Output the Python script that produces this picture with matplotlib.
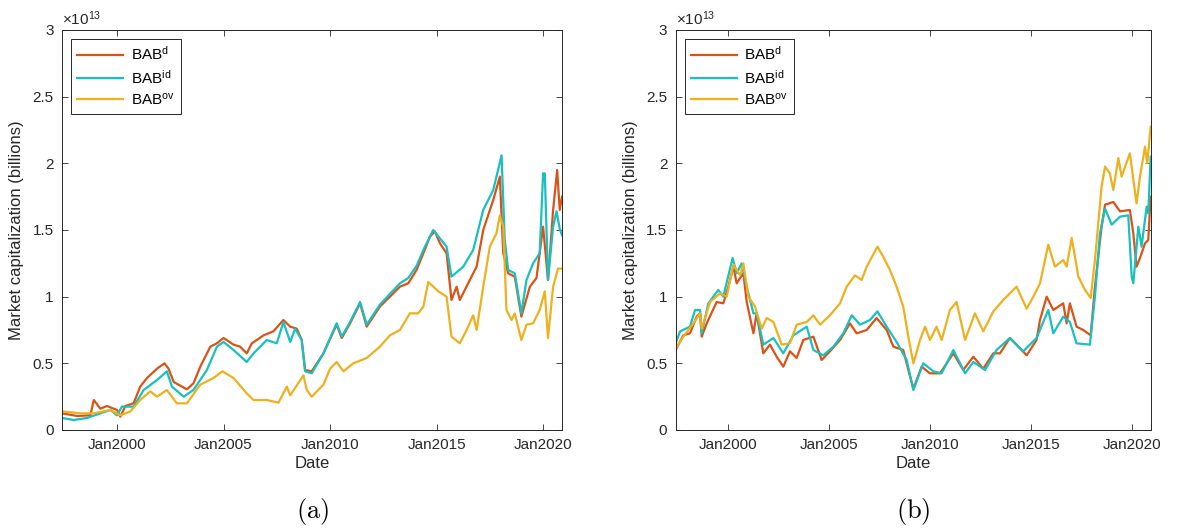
import numpy as np
import matplotlib
matplotlib.use("Agg")
import matplotlib.pyplot as plt
from matplotlib.ticker import FuncFormatter

plt.rcParams['font.family'] = ['Liberation Sans', 'DejaVu Sans']
plt.rcParams['mathtext.fontset'] = 'custom'
plt.rcParams['mathtext.rm'] = 'Liberation Sans'
plt.rcParams['mathtext.it'] = 'Liberation Sans:italic'

# values in units of 1e13, dates in decimal years
a_d_t = [1997.42, 1998.13, 1998.75, 1998.91, 1999.22, 1999.53, 2000.0, 2000.16, 2000.39, 2000.78,
         2001.09, 2001.41, 2001.88, 2002.23, 2002.42, 2002.66, 2003.28, 2003.59, 2003.91, 2004.38,
         2004.69, 2005.0, 2005.47, 2005.78, 2006.09, 2006.33, 2006.88, 2007.34, 2007.81, 2008.13,
         2008.44, 2008.67, 2008.83, 2009.14, 2009.69, 2010.31, 2010.55, 2010.94, 2011.41, 2011.72,
         2012.34, 2012.81, 2013.28, 2013.67, 2014.06, 2014.38, 2014.69, 2014.92, 2015.16, 2015.47,
         2015.70, 2015.94, 2016.09, 2016.56, 2016.88, 2017.19, 2017.66, 2017.97, 2018.13, 2018.36,
         2018.67, 2018.98, 2019.38, 2019.69, 2020.0, 2020.23, 2020.47, 2020.66, 2020.78, 2020.89]
a_d_v = [0.125, 0.105, 0.11, 0.225, 0.16, 0.18, 0.15, 0.10, 0.18, 0.20,
         0.325, 0.39, 0.46, 0.50, 0.46, 0.36, 0.305, 0.35, 0.475, 0.625,
         0.65, 0.69, 0.64, 0.625, 0.575, 0.65, 0.71, 0.74, 0.825, 0.775,
         0.76, 0.675, 0.45, 0.44, 0.575, 0.79, 0.69, 0.80, 0.95, 0.775,
         0.925, 1.0, 1.075, 1.10, 1.2, 1.325, 1.45, 1.49, 1.40, 1.325,
         0.975, 1.075, 0.975, 1.125, 1.225, 1.5, 1.725, 1.9, 1.325, 1.175,
         1.15, 0.85, 1.075, 1.14, 1.525, 1.125, 1.65, 1.95, 1.65, 1.75]

a_id_t = [1997.42, 1997.97, 1998.59, 1999.22, 1999.69, 2000.0, 2000.23, 2000.78, 2001.25, 2001.88,
          2002.34, 2002.58, 2003.13, 2003.59, 2004.22, 2004.69, 2005.0, 2005.47, 2006.09, 2006.41,
          2007.03, 2007.5, 2007.81, 2008.13, 2008.36, 2008.67, 2008.83, 2009.14, 2009.69, 2010.31,
          2010.55, 2010.94, 2011.41, 2011.72, 2012.34, 2012.81, 2013.28, 2013.67, 2014.06, 2014.38,
          2014.84, 2015.47, 2015.70, 2016.25, 2016.72, 2017.19, 2017.66, 2018.05, 2018.20, 2018.36,
          2018.67, 2018.98, 2019.22, 2019.53, 2019.84, 2020.0, 2020.08, 2020.23, 2020.47, 2020.63,
          2020.78, 2020.89]
a_id_v = [0.09, 0.075, 0.09, 0.125, 0.15, 0.11, 0.175, 0.175, 0.30, 0.375,
          0.44, 0.325, 0.25, 0.30, 0.45, 0.625, 0.66, 0.60, 0.51, 0.575,
          0.675, 0.65, 0.81, 0.66, 0.76, 0.675, 0.44, 0.425, 0.575, 0.80,
          0.70, 0.81, 0.96, 0.79, 0.94, 1.02, 1.10, 1.14, 1.23, 1.35,
          1.50, 1.375, 1.15, 1.225, 1.35, 1.65, 1.8, 2.06, 1.425, 1.2,
          1.175, 0.875, 1.125, 1.25, 1.325, 1.925, 1.925, 1.125, 1.525, 1.64,
          1.51, 1.46]

a_ov_t = [1997.42, 1998.28, 1998.91, 1999.69, 2000.16, 2000.63, 2001.09, 2001.56, 2001.88, 2002.34,
          2002.81, 2003.28, 2003.91, 2004.53, 2004.95, 2005.47, 2006.09, 2006.41, 2007.03, 2007.58,
          2007.97, 2008.13, 2008.75, 2008.91, 2009.14, 2009.69, 2010.0, 2010.31, 2010.63, 2011.09,
          2011.72, 2012.34, 2012.81, 2013.28, 2013.75, 2014.14, 2014.38, 2014.61, 2015.08, 2015.47,
          2015.70, 2016.09, 2016.41, 2016.72, 2016.88, 2017.19, 2017.5, 2017.81, 2017.97, 2018.13,
          2018.28, 2018.52, 2018.67, 2018.98, 2019.22, 2019.53, 2019.84, 2020.08, 2020.23, 2020.47,
          2020.70, 2020.89]
a_ov_v = [0.14, 0.125, 0.125, 0.15, 0.11, 0.14, 0.225, 0.29, 0.25, 0.30,
          0.20, 0.20, 0.34, 0.39, 0.44, 0.39, 0.275, 0.225, 0.225, 0.205,
          0.325, 0.26, 0.41, 0.30, 0.25, 0.34, 0.46, 0.51, 0.44, 0.50,
          0.54, 0.625, 0.71, 0.75, 0.875, 0.875, 0.925, 1.11, 1.04, 1.0,
          0.70, 0.65, 0.75, 0.86, 0.75, 1.075, 1.375, 1.475, 1.61, 1.525,
          0.90, 0.825, 0.875, 0.675, 0.79, 0.80, 0.90, 1.04, 0.69, 1.075,
          1.21, 1.21]

b_d_t = [1997.39, 1997.77, 1998.10, 1998.43, 1998.60, 1998.68, 1998.93, 1999.42, 1999.75, 2000.0,
         2000.25, 2000.41, 2000.74, 2000.91, 2001.24, 2001.40, 2001.73, 2002.06, 2002.39, 2002.72,
         2003.05, 2003.38, 2003.71, 2004.21, 2004.62, 2005.03, 2005.53, 2006.02, 2006.35, 2006.85,
         2007.34, 2007.84, 2008.17, 2008.66, 2008.91, 2009.16, 2009.57, 2009.98, 2010.48, 2011.14,
         2011.63, 2012.13, 2012.62, 2013.12, 2013.45, 2013.94, 2014.77, 2015.26, 2015.43, 2015.76,
         2016.09, 2016.58, 2016.75, 2016.91, 2017.24, 2017.57, 2017.94, 2018.15, 2018.48, 2018.65,
         2019.06, 2019.39, 2019.88, 2020.05, 2020.21, 2020.38, 2020.63, 2020.79, 2020.91]
b_d_v = [0.60, 0.71, 0.725, 0.85, 0.875, 0.70, 0.80, 0.96, 0.95, 1.075,
         1.225, 1.10, 1.175, 0.96, 0.725, 0.875, 0.575, 0.64, 0.55, 0.475,
         0.59, 0.54, 0.675, 0.70, 0.525, 0.59, 0.675, 0.80, 0.725, 0.75,
         0.84, 0.75, 0.625, 0.60, 0.45, 0.31, 0.475, 0.425, 0.425, 0.575,
         0.45, 0.55, 0.46, 0.575, 0.575, 0.69, 0.56, 0.675, 0.825, 1.0,
         0.90, 0.95, 0.80, 0.95, 0.775, 0.75, 0.71, 1.075, 1.525, 1.69,
         1.71, 1.64, 1.65, 1.475, 1.225, 1.29, 1.40, 1.425, 1.75]

b_id_t = [1997.39, 1997.61, 1998.10, 1998.35, 1998.60, 1998.68, 1999.01, 1999.50, 1999.75, 2000.21,
          2000.41, 2000.66, 2000.91, 2001.24, 2001.40, 2001.73, 2002.23, 2002.72, 2003.22, 2003.88,
          2004.21, 2004.70, 2005.20, 2005.69, 2006.11, 2006.52, 2007.01, 2007.38, 2007.84, 2008.33,
          2008.83, 2009.16, 2009.65, 2010.15, 2010.56, 2011.14, 2011.72, 2012.13, 2012.71, 2013.28,
          2013.94, 2014.60, 2015.26, 2015.84, 2016.09, 2016.58, 2016.91, 2017.24, 2017.90, 2018.15,
          2018.40, 2018.65, 2018.98, 2019.39, 2019.80, 2019.97, 2020.05, 2020.30, 2020.46, 2020.71,
          2020.79, 2020.91]
b_id_v = [0.65, 0.74, 0.775, 0.90, 0.90, 0.725, 0.95, 1.05, 1.0, 1.29,
          1.175, 1.25, 1.075, 0.875, 0.875, 0.64, 0.69, 0.575, 0.71, 0.775,
          0.60, 0.56, 0.625, 0.725, 0.86, 0.79, 0.825, 0.89, 0.775, 0.66,
          0.525, 0.30, 0.50, 0.44, 0.425, 0.60, 0.425, 0.51, 0.45, 0.60,
          0.69, 0.59, 0.69, 0.90, 0.725, 0.85, 0.81, 0.65, 0.64, 1.0,
          1.475, 1.66, 1.54, 1.60, 1.61, 1.15, 1.10, 1.525, 1.375, 1.675,
          1.625, 2.05]

b_ov_t = [1997.39, 1997.77, 1998.27, 1998.60, 1998.68, 1999.09, 1999.59, 1999.92, 2000.25, 2000.58,
          2000.74, 2000.99, 2001.32, 2001.65, 2001.90, 2002.23, 2002.64, 2003.05, 2003.38, 2003.88,
          2004.21, 2004.54, 2005.03, 2005.53, 2005.86, 2006.27, 2006.60, 2006.85, 2007.38, 2007.67,
          2008.0, 2008.33, 2008.66, 2008.91, 2009.16, 2009.49, 2009.74, 2009.98, 2010.31, 2010.56,
          2010.97, 2011.30, 2011.72, 2012.21, 2012.62, 2013.12, 2013.61, 2014.27, 2014.77, 2015.10,
          2015.43, 2015.84, 2016.17, 2016.58, 2016.75, 2017.00, 2017.33, 2017.66, 2017.94, 2018.15,
          2018.48, 2018.65, 2018.89, 2019.06, 2019.31, 2019.47, 2019.88, 2020.21, 2020.38, 2020.63,
          2020.74, 2020.91]
b_ov_v = [0.61, 0.70, 0.80, 0.875, 0.76, 0.96, 1.025, 1.0, 1.24, 1.16,
          1.25, 1.0, 0.925, 0.76, 0.84, 0.81, 0.64, 0.65, 0.79, 0.81,
          0.86, 0.79, 0.86, 0.95, 1.075, 1.16, 1.125, 1.225, 1.375, 1.30,
          1.20, 1.075, 0.925, 0.70, 0.50, 0.675, 0.775, 0.675, 0.775, 0.675,
          0.90, 0.96, 0.675, 0.875, 0.74, 0.89, 0.975, 1.075, 0.91, 1.0,
          1.10, 1.39, 1.225, 1.275, 1.225, 1.44, 1.15, 1.05, 0.99, 1.275,
          1.825, 1.975, 1.925, 1.80, 2.04, 1.90, 2.075, 1.70, 1.90, 2.125,
          2.0, 2.275]

labels = [r'BAB$^{\mathrm{d}}$', r'BAB$^{\mathrm{id}}$', r'BAB$^{\mathrm{ov}}$']
colors = ['#D95319', '#1ABFBF', '#EDB120']
year_ticks = [2000, 2005, 2010, 2015, 2020]
scale = 1e13

fig = plt.figure(figsize=(12.02, 5.30), dpi=100)
ax1 = fig.add_axes([0.0516, 0.1887, 0.416, 0.7547])
ax2 = fig.add_axes([0.5621, 0.1887, 0.3952, 0.7547])

panels = [
    (ax1, [(a_d_t, a_d_v), (a_id_t, a_id_v), (a_ov_t, a_ov_v)], '(a)'),
    (ax2, [(b_d_t, b_d_v), (b_id_t, b_id_v), (b_ov_t, b_ov_v)], '(b)'),
]

for ax, series, tag in panels:
    for (t, v), lab, c in zip(series, labels, colors):
        ax.plot(t, np.array(v) * scale, color=c, lw=1.6, label=lab)
    t_all = np.concatenate([s[0] for s in series])
    ax.set_xlim(t_all.min(), t_all.max())
    ax.set_ylim(0, 3 * scale)
    ax.set_yticks(np.arange(0, 3.01, 0.5) * scale)
    ax.yaxis.set_major_formatter(FuncFormatter(lambda y, p: '%g' % (y / scale)))
    ax.set_xticks(year_ticks)
    ax.set_xticklabels(['Jan%d' % y for y in year_ticks])
    ax.tick_params(direction='in', top=True, right=True, length=4, width=0.6,
                   labelsize=11, colors='#262626', pad=6)
    for s in ax.spines.values():
        s.set_linewidth(0.7)
        s.set_color('#262626')
    ax.set_xlabel('Date', fontsize=12, color='#262626', labelpad=3)
    ax.set_ylabel('Market capitalization (billions)', fontsize=12, color='#262626', labelpad=6)
    ax.text(0, 1.004, r'$\times10^{13}$', transform=ax.transAxes, fontsize=11,
            ha='left', va='bottom', color='#262626')
    leg = ax.legend(loc='upper left', fontsize=11, handlelength=3.0, fancybox=False,
                    framealpha=1, edgecolor='#262626', borderaxespad=0.6,
                    labelspacing=0.35, handletextpad=0.5, borderpad=0.4)
    leg.get_frame().set_linewidth(0.7)
    pos = ax.get_position()
    fig.text(pos.x0 + pos.width / 2, 0.035, r'$\mathrm{%s}$' % tag, ha='center', va='center',
             fontsize=19, math_fontfamily='cm')

fig.savefig('out.png', dpi=100)
